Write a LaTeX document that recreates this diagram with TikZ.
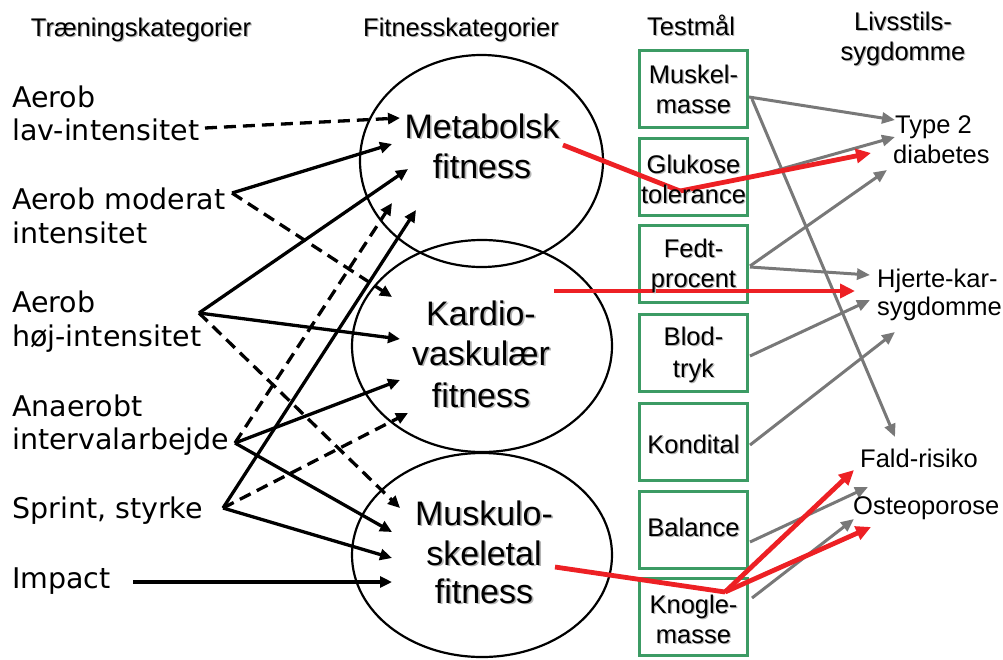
\documentclass[tikz,border=0pt]{standalone}
\usepackage{fontspec}
\setmainfont{Liberation Sans}
\newfontfamily\verdfont{DejaVu Sans}
\usetikzlibrary{arrows.meta,shapes.geometric}
\definecolor{boxgreen}{RGB}{60,155,100}
\definecolor{arrred}{RGB}{237,32,36}
\definecolor{arrgray}{RGB}{120,120,120}
\definecolor{shadowc}{RGB}{180,180,180}
% text with a soft drop shadow
\newcommand\shd[2][1.4pt]{\rlap{\kern#1\raisebox{-#1}{\textcolor{shadowc}{#2}}}#2}

\begin{document}
\begin{tikzpicture}[x=1pt,y=-1pt,
  hdr/.style={font=\fontsize{25.5}{30}\selectfont, inner sep=0, anchor=base},
  lbl/.style={font=\verdfont\fontsize{28.5}{33}\selectfont, inner sep=0, anchor=base west},
  elltxt/.style={font=\fontsize{34}{40}\selectfont, inner sep=0, anchor=base},
  boxtxt/.style={font=\fontsize{25.5}{30}\selectfont, inner sep=0, anchor=base},
  rlbl/.style={font=\fontsize{25.5}{30}\selectfont, inner sep=0, anchor=base west},
  fitell/.style={ellipse, draw=black, line width=2.2pt, inner sep=0},
  testbox/.style={rectangle, draw=boxgreen, line width=3pt, inner sep=0,
                  minimum width=108, minimum height=77},
  solidarr/.style={line width=3.3pt, -{Triangle[length=12pt,width=11pt]}},
  dasharr/.style={solidarr, dash pattern=on 12pt off 7pt},
  grayarr/.style={draw=arrgray, line width=3pt, -{Triangle[length=13pt,width=11pt]}},
  redline/.style={draw=arrred, line width=4.8pt, line join=round},
  redarr/.style={redline, -{Triangle[length=15pt,width=14pt]}}
]
\useasboundingbox (0,0) rectangle (1003,659);

% fitness ellipses
\node[fitell, minimum width=243, minimum height=212] (met) at (481.5,161) {};
\node[fitell, minimum width=260, minimum height=212] (kar) at (482,346) {};
\node[fitell, minimum width=260, minimum height=204] (mus) at (482,555) {};

% test boxes
\node[testbox] (bMuskel)  at (693.5,89)  {};
\node[testbox] (bGlukose) at (693.5,177) {};
\node[testbox] (bFedt)    at (693.5,264) {};
\node[testbox] (bBlod)    at (693.5,353) {};
\node[testbox] (bKond)    at (693.5,442) {};
\node[testbox] (bBal)     at (693.5,530) {};
\node[testbox] (bKnogle)  at (693.5,616.5) {};

% arrow end points: training categories
\coordinate (sLav) at (205,128);
\coordinate (sMod) at (232,193);
\coordinate (sHoj) at (199,313);
\coordinate (sAna) at (235,443);
\coordinate (sSpr) at (223,508);
\coordinate (sImp) at (133,582);

% arrow tips inside the fitness ellipses
\coordinate (tMet1) at (400,118);
\coordinate (tMet2) at (392,144);
\coordinate (tMet3) at (408,169);
\coordinate (tMet4) at (392,203);
\coordinate (tMet5) at (416,210);
\coordinate (tKar1) at (392,297);
\coordinate (tKar2) at (400,339);
\coordinate (tKar3) at (400,380);
\coordinate (tKar4) at (408,413);
\coordinate (tMus1) at (400,508);
\coordinate (tMus2) at (392,532);
\coordinate (tMus3) at (392,558);
\coordinate (tMus4) at (392,582);

% training -> fitness
\draw[dasharr]  (sLav) -- (tMet1);
\draw[solidarr] (sMod) -- (tMet2);
\draw[dasharr]  (sMod) -- (tKar1);
\draw[solidarr] (sHoj) -- (tMet3);
\draw[solidarr] (sHoj) -- (tKar2);
\draw[dasharr]  (sHoj) -- (tMus1);
\draw[dasharr]  (sAna) -- (tMet4);
\draw[solidarr] (sAna) -- (tKar3);
\draw[solidarr] (sAna) -- (tMus2);
\draw[solidarr] (sSpr) -- (tMet5);
\draw[dasharr]  (sSpr) -- (tKar4);
\draw[solidarr] (sSpr) -- (tMus3);
\draw[solidarr] (sImp) -- (tMus4);

% test -> disease end points
\coordinate (gMus1) at (749,97);
\coordinate (gMus2) at (752,99);
\coordinate (gGlu)  at (749,178);
\coordinate (gFedt1) at (750,266);
\coordinate (gFedt2) at (750,267);
\coordinate (gBlod) at (750,356);
\coordinate (gKond) at (750,445);
\coordinate (gBal)  at (750,542);
\coordinate (gKno)  at (752,598);
\coordinate (dT2a) at (895,120);
\coordinate (dT2b) at (895,137);
\coordinate (dT2c) at (887,170);
\coordinate (dHk1) at (870,275);
\coordinate (dHk2) at (870,300);
\coordinate (dHk3) at (895,332);
\coordinate (dFald) at (895,437);
\coordinate (dOst1) at (868,487);
\coordinate (dOst2) at (854,519);

\draw[grayarr] (gMus1) -- (dT2a);
\draw[grayarr] (gMus2) -- (dFald);
\draw[grayarr] (gGlu) -- (dT2b);
\draw[grayarr] (gFedt1) -- (dT2c);
\draw[grayarr] (gFedt2) -- (dHk1);
\draw[grayarr] (gBlod) -- (dHk2);
\draw[grayarr] (gKond) -- (dHk3);
\draw[grayarr] (gBal) -- (dOst1);
\draw[grayarr] (gKno) -- (dOst2);

% red pathways
\coordinate (rMet) at (563,145);
\coordinate (rGlu) at (680,191);
\coordinate (rT2)  at (871,153);
\coordinate (rKar) at (554,291);
\coordinate (rHk)  at (855,291);
\coordinate (rMus) at (555,567);
\coordinate (rKno) at (725,592);
\coordinate (rFald) at (854,470);
\coordinate (rOst) at (871,527);
\draw[redline] (rMet) -- (rGlu);
\draw[redarr]  (rGlu) -- (rT2);
\draw[redarr]  (rKar) -- (rHk);
\draw[redline] (rMus) -- (rKno);
\draw[redarr]  (rKno) -- (rFald);
\draw[redarr]  (rKno) -- (rOst);

% column headers
\node[hdr] (hTraen) at (141,36) {\shd[1.2pt]{Træningskategorier}};
\node[hdr] (hFit)   at (461,36) {\shd[1.2pt]{Fitnesskategorier}};
\node[hdr] (hTest)  at (691,35) {\shd[1.2pt]{Testmål}};
\node[hdr] (hLiv1)  at (903,30) {\shd[1.2pt]{Livsstils-}};
\node[hdr] (hLiv2)  at (903,60) {\shd[1.2pt]{sygdomme}};

% training categories
\node[lbl] (lLav1) at (12,107) {Aerob};
\node[lbl] (lLav2) at (12,140) {lav-intensitet};
\node[lbl] (lMod1) at (12,209) {Aerob moderat};
\node[lbl] (lMod2) at (12,243) {intensitet};
\node[lbl] (lHoj1) at (12,312) {Aerob};
\node[lbl] (lHoj2) at (12,346) {høj-intensitet};
\node[lbl] (lAna1) at (12,416) {Anaerobt};
\node[lbl] (lAna2) at (12,449) {intervalarbejde};
\node[lbl] (lSpr)  at (12,518) {Sprint, styrke};
\node[lbl] (lImp)  at (12,588) {Impact};

% fitness category texts
\node[elltxt] (eMet1) at (482,138) {\shd[1.7pt]{Metabolsk}};
\node[elltxt] (eMet2) at (482,178) {\shd[1.7pt]{fitness}};
\node[elltxt] (eKar1) at (481,325) {\shd[1.7pt]{Kardio-}};
\node[elltxt] (eKar2) at (481,365) {\shd[1.7pt]{vaskulær}};
\node[elltxt] (eKar3) at (481,407) {\shd[1.7pt]{fitness}};
\node[elltxt] (eMus1) at (484,525) {\shd[1.7pt]{Muskulo-}};
\node[elltxt] (eMus2) at (484,565) {\shd[1.7pt]{skeletal}};
\node[elltxt] (eMus3) at (484,603) {\shd[1.7pt]{fitness}};

% test texts
\node[boxtxt] (tx1a) at (693.5,83)  {\shd[1.2pt]{Muskel-}};
\node[boxtxt] (tx1b) at (693.5,113) {\shd[1.2pt]{masse}};
\node[boxtxt] (tx2a) at (693.5,173) {\shd[1.2pt]{Glukose}};
\node[boxtxt] (tx2b) at (693.5,203) {\shd[1.2pt]{tolerance}};
\node[boxtxt] (tx3a) at (693.5,257) {\shd[1.2pt]{Fedt-}};
\node[boxtxt] (tx3b) at (693.5,287) {\shd[1.2pt]{procent}};
\node[boxtxt] (tx4a) at (693.5,345) {\shd[1.2pt]{Blod-}};
\node[boxtxt] (tx4b) at (693.5,377) {\shd[1.2pt]{tryk}};
\node[boxtxt] (tx5)  at (693.5,453) {\shd[1.2pt]{Kondital}};
\node[boxtxt] (tx6)  at (693.5,536) {\shd[1.2pt]{Balance}};
\node[boxtxt] (tx7a) at (693.5,613) {\shd[1.2pt]{Knogle-}};
\node[boxtxt] (tx7b) at (693.5,643) {\shd[1.2pt]{masse}};

% lifestyle diseases
\node[rlbl] (dT2l1) at (895,133) {Type 2};
\node[rlbl] (dT2l2) at (893,163) {diabetes};
\node[rlbl] (dHkl1) at (877,287) {Hjerte-kar-};
\node[rlbl] (dHkl2) at (877,315) {sygdomme};
\node[rlbl] (dFaldl) at (860,467) {Fald-risiko};
\node[rlbl] (dOstl) at (853,514) {Osteoporose};
\end{tikzpicture}
\end{document}
